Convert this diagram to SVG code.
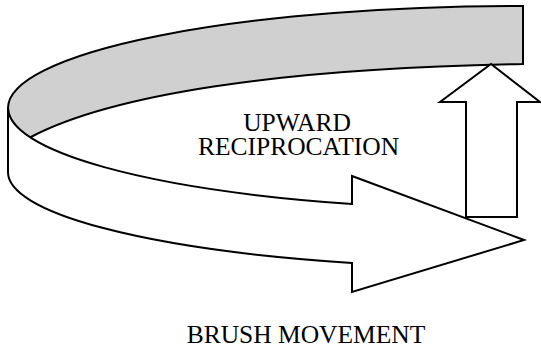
<svg xmlns="http://www.w3.org/2000/svg" width="541" height="354" viewBox="0 0 541 354">
<style>
.s{stroke:#000;stroke-width:2;stroke-linejoin:miter;}
.w{fill:#fff;}
.g{fill:#d0d0d0;}
.t{font-family:"Liberation Serif","Times New Roman",serif;font-size:25.5px;fill:#000;text-anchor:middle;}
</style>
<rect width="541" height="354" fill="#fff"/>
<g id="band-top">
<path class="s g" d="M523,6 A512,102 0 0 0 8,108 A512,102 0 0 0 30,137.5 C110,95 280,68 523,64 Z"/>
</g>
<g id="band-front">
<path class="s w" d="M8,108 A512,102 0 0 0 352,204 L352,176 L524,240 L352,292 L352,263 A512,96 0 0 1 8,172 Z"/>
</g>
<g id="up-arrow">
<path class="s w" d="M466,217 L466,102 L440,102 L491,64 L540,102 L517,102 L517,217 Z"/>
</g>
<g id="labels">
<text class="t" x="297" y="131">UPWARD</text>
<text class="t" x="298.5" y="155">RECIPROCATION</text>
<text class="t" x="306" y="343">BRUSH MOVEMENT</text>
</g>
<g id="connectors"></g>
</svg>
